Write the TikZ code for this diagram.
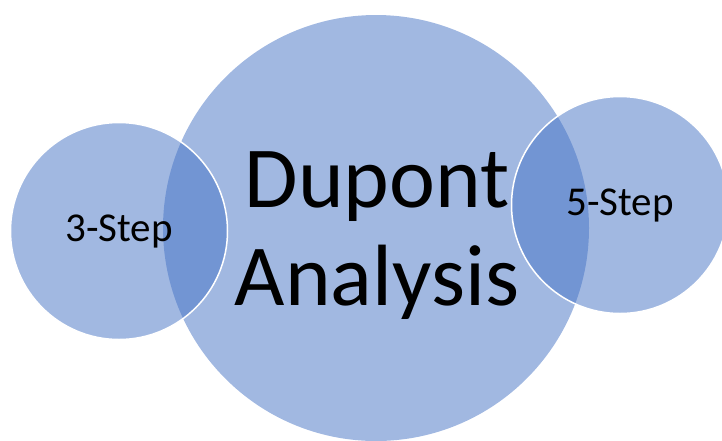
\documentclass[tikz,border=0pt]{standalone}
\usepackage{fontspec}
\setmainfont{Carlito}
\usepackage{tikz}
\definecolor{accentblue}{HTML}{4472C4}
\tikzset{
  bubble/.style={circle, inner sep=0pt, fill=accentblue, fill opacity=0.5,
    text opacity=1, align=center},
  sidebubble/.style={bubble, draw=white, line width=1.5pt, minimum size=217pt,
    font=\fontsize{41}{48}\selectfont}
}
\begin{document}
\begin{tikzpicture}[x=1pt,y=-1pt]
      \useasboundingbox (0,0) rectangle (722,440);
      \clip (0,0) rectangle (722,440);
      \node[bubble, minimum size=426pt] (dupont) at (376,228) {};
      \node[align=center, font=\fontsize{87}{98}\selectfont] (title) at (377,236) {Dupont\\Analysis};
      \node[sidebubble] (three) at (119,231) {3-Step};
      \node[sidebubble] (five) at (620,205) {5-Step};
    \end{tikzpicture}
\end{document}
